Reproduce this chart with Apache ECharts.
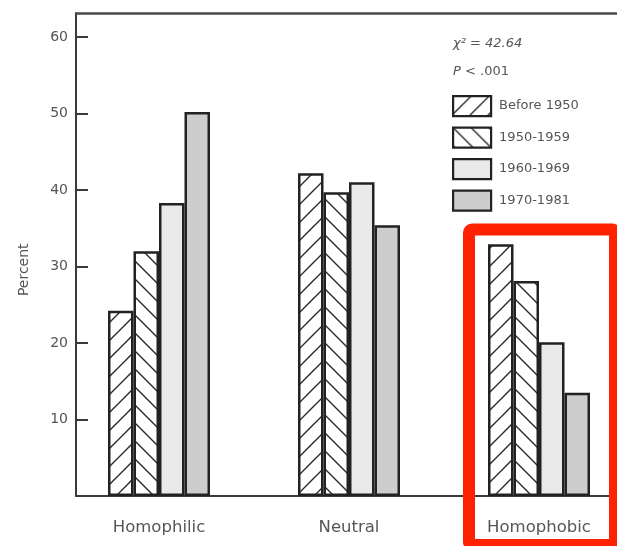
<!DOCTYPE html>
<html>
<head>
<meta charset="utf-8">
<script src="https://cdn.jsdelivr.net/npm/echarts@6/dist/echarts.min.js"></script>
<style>html,body{margin:0;padding:0;background:#fff;}#c{width:617px;height:546px;}</style>
</head>
<body>
<div id="c"></div>
<script>
const categories = ['Homophilic', 'Neutral', 'Homophobic'];
const seriesNames = ['Before 1950', '1950-1959', '1960-1969', '1970-1981'];
const before1950 = [24.2, 42.2, 32.9];
const y1950s = [32.0, 39.7, 28.1];
const y1960s = [38.3, 41.0, 20.1];
const y1970s = [50.2, 35.4, 13.5];
const yTicks = [10, 20, 30, 40, 50, 60];
const statLine1 = 'χ² = 42.64';
const statLine2 = '< .001';

function hatch(dir) {
  const s = 18;
  const c = document.createElement('canvas');
  c.width = s; c.height = s;
  const g = c.getContext('2d');
  g.fillStyle = '#ffffff';
  g.fillRect(0, 0, s, s);
  g.strokeStyle = '#2a2a2a';
  g.lineWidth = 1.4;
  g.beginPath();
  if (dir === '/') {
    g.moveTo(-2, s + 2); g.lineTo(s + 2, -2);
    g.moveTo(-2, 2); g.lineTo(2, -2);
    g.moveTo(s - 2, s + 2); g.lineTo(s + 2, s - 2);
  } else {
    g.moveTo(-2, -2); g.lineTo(s + 2, s + 2);
    g.moveTo(s - 2, -2); g.lineTo(s + 2, 2);
    g.moveTo(-2, s - 2); g.lineTo(2, s + 2);
  }
  g.stroke();
  return { image: c, repeat: 'repeat' };
}

const fills = [hatch('/'), hatch('\\'), '#e9e9e9', '#cdcdcd'];
const values = [before1950, y1950s, y1960s, y1970s];
const yMax = 63.07;
const font = '"DejaVu Sans", sans-serif';
const txt = '#555';

const chart = echarts.init(document.getElementById('c'), null, { renderer: 'canvas' });
chart.setOption({
  backgroundColor: '#fff',
  animation: false,
  grid: [
    { left: 64, width: 570, top: 13.5, bottom: 50, outerBoundsMode: 'none', containLabel: false },
    { left: 76, right: 0, top: 13.5, bottom: 50, outerBoundsMode: 'none', containLabel: false }
  ],
  legend: {
    left: 452, top: 95, padding: 0,
    orient: 'vertical',
    icon: 'rect',
    itemWidth: 38, itemHeight: 20, itemGap: 9.3,
    data: seriesNames,
    textStyle: { fontFamily: font, fontSize: 13, color: txt, padding: [0, 0, 0, 3] },
    itemStyle: { borderColor: '#222', borderWidth: 2.2 }
  },
  xAxis: [
    { gridIndex: 0, type: 'category', data: categories,
      axisLine: { show: false }, axisTick: { show: false },
      axisLabel: { fontFamily: font, fontSize: 16.5, color: txt, margin: 23 } },
    { gridIndex: 1, type: 'category', data: [''], position: 'bottom',
      axisLine: { lineStyle: { color: '#3a3a3a', width: 2 } },
      axisTick: { show: false }, axisLabel: { show: false } },
    { gridIndex: 1, type: 'category', data: [''], position: 'top',
      axisLine: { lineStyle: { color: '#4a4a4a', width: 2.5 } },
      axisTick: { show: false }, axisLabel: { show: false } }
  ],
  yAxis: [
    { gridIndex: 0, type: 'value', min: 0, max: yMax, show: false },
    { gridIndex: 1, type: 'value', min: 0, max: yMax, interval: 10,
      splitLine: { show: false },
      axisLine: { show: true, lineStyle: { color: '#3a3a3a', width: 2 } },
      axisTick: { show: true, inside: true, length: 12, customValues: yTicks,
        lineStyle: { color: '#3a3a3a', width: 2 } },
      axisLabel: { fontFamily: font, fontSize: 14, color: txt, margin: 8, customValues: yTicks },
      name: 'Percent', nameLocation: 'middle', nameGap: 45, nameRotate: 90,
      nameTextStyle: { fontFamily: font, fontSize: 14, color: txt, padding: [0, 30, 0, 0] } }
  ],
  series: seriesNames.map((n, i) => ({
    name: n, type: 'bar', xAxisIndex: 0, yAxisIndex: 0,
    data: values[i], barWidth: 25.5, barGap: '0%',
    itemStyle: { color: fills[i], borderColor: '#222', borderWidth: 2.5 }
  })),
  graphic: [
    { type: 'text', left: 453, top: 37,
      style: { text: statLine1, fontFamily: font, fontSize: 13, fontStyle: 'italic', fill: txt } },
    { type: 'text', left: 453, top: 65,
      style: { text: '{i|P} ' + statLine2, fontFamily: font, fontSize: 13, fill: txt,
        rich: { i: { fontStyle: 'italic', fontFamily: font, fontSize: 13, fill: txt } } } },
    { type: 'rect', shape: { x: 469, y: 229.5, width: 146, height: 315.5, r: 3 },
      style: { fill: null, stroke: '#ff2200', lineWidth: 12 }, z: 100 }
  ]
});
</script>
</body>
</html>
